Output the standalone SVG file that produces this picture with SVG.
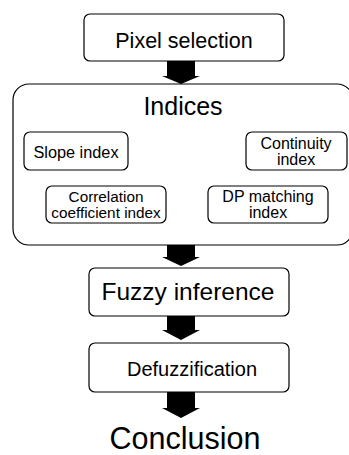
<svg xmlns="http://www.w3.org/2000/svg" width="349" height="455" viewBox="0 0 349 455">
<style>
.box{fill:#fff;stroke:#000;stroke-width:1.2}
.t{font-family:"Liberation Sans",Arial,sans-serif;fill:#000;text-anchor:middle}
.arr{fill:#000}
</style>
<rect width="349" height="455" fill="#fff"/>
<g id="indices">
<rect class="box" x="13" y="84" width="340" height="161" rx="16"/>
<text class="t" x="183" y="115" font-size="25">Indices</text>
</g>
<g id="pixel-selection">
<rect class="box" x="84" y="14" width="200" height="47" rx="6"/>
<text class="t" x="184" y="48" font-size="21.5">Pixel selection</text>
</g>
<g id="slope-index">
<rect class="box" x="24" y="132" width="104" height="38" rx="6"/>
<text class="t" x="76" y="158" font-size="16.3">Slope index</text>
</g>
<g id="continuity-index">
<rect class="box" x="246" y="132" width="101" height="38" rx="6"/>
<text class="t" x="296" y="149" font-size="16">Continuity</text>
<text class="t" x="296" y="165" font-size="16">index</text>
</g>
<g id="correlation-index">
<rect class="box" x="46" y="186" width="120" height="37" rx="6"/>
<text class="t" x="106" y="202" font-size="15.3">Correlation</text>
<text class="t" x="106" y="218" font-size="15.3">coefficient index</text>
</g>
<g id="dp-matching-index">
<rect class="box" x="208" y="186" width="120" height="37" rx="6"/>
<text class="t" x="268" y="202" font-size="16">DP matching</text>
<text class="t" x="268" y="218" font-size="16">index</text>
</g>
<g id="fuzzy-inference">
<rect class="box" x="89" y="268" width="200" height="48" rx="6"/>
<text class="t" x="188" y="300" font-size="24.5">Fuzzy inference</text>
</g>
<g id="defuzzification">
<rect class="box" x="89" y="343" width="200" height="49" rx="6"/>
<text class="t" x="192" y="376" font-size="20">Defuzzification</text>
</g>
<g id="conclusion">
<text class="t" x="185" y="449" font-size="30.5">Conclusion</text>
</g>
<g id="connectors">
<polygon class="arr" points="167,61 195,61 195,76 200,76 181,84 162,76 167,76"/>
<polygon class="arr" points="167,245 195,245 195,257 200,257 181,266 162,257 167,257"/>
<polygon class="arr" points="167,316 195,316 195,330 200,330 181,340 162,330 167,330"/>
<polygon class="arr" points="167,392 195,392 195,408 200,408 181,418 162,408 167,408"/>
</g>
</svg>
